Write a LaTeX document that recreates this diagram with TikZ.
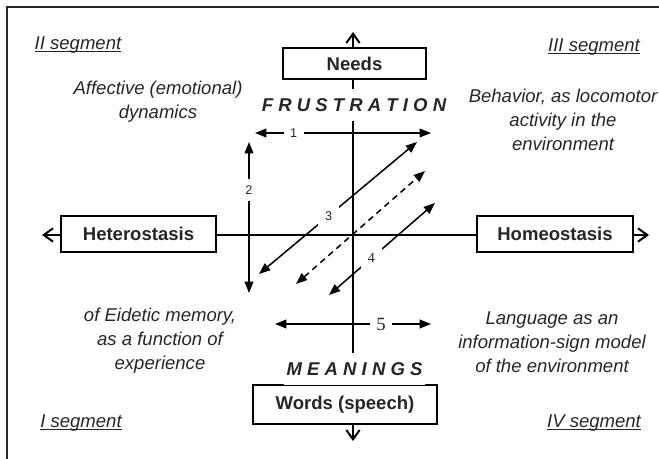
\documentclass[tikz,border=0pt]{standalone}
\usepackage{fontspec}
\setmainfont{Liberation Sans}
\newfontfamily\numfont{Liberation Serif}
\usetikzlibrary{arrows.meta}
\definecolor{ink}{RGB}{38,38,38}
\newcommand\bodysize{\fontsize{13.9}{18}\selectfont}
\newcommand\segline[1]{\setbox0\hbox{#1}\rlap{\rule[-1.8pt]{\wd0}{0.9pt}}\box0}

\begin{document}
\begin{tikzpicture}[x=0.75pt, y=-0.75pt]
% TikZ styles
\tikzset{
  box/.style={rectangle, draw=black, fill=white, line width=0.4mm, inner sep=0pt, font=\bodysize\bfseries, text=ink},
  note/.style={align=center, font=\bodysize\itshape, text=ink},
  segment/.style={font=\bodysize\itshape, text=ink},
  heading/.style={fill=white, inner xsep=2pt, inner ysep=7pt, font=\bodysize\bfseries\itshape, text=ink},
  axis/.style={{Straight Barb[length=7pt,width=10pt]}-{Straight Barb[length=7pt,width=10pt]}, line width=1.5pt},
  arrowboth/.style={{Triangle[length=8.5pt,width=6.5pt]}-{Triangle[length=8.5pt,width=6.5pt]}, line width=0.4mm},
  num/.style={fill=white, inner sep=5pt, font=\fontsize{9.5}{11}\selectfont, text=ink},
  numserif/.style={fill=white, inner sep=5pt, text=ink}
}
\useasboundingbox (0,0) rectangle (659,459);

%==========================
% Rahmen
%==========================
\coordinate (framebl) at (7,459);
\coordinate (frametl) at (7,7);
\coordinate (frametr) at (659,7);
\draw[line width=1.5pt, ink] (framebl) -- (frametl) -- (frametr);

%==========================
% Achsen
%==========================
\coordinate (vtop) at (353,32);
\coordinate (vbot) at (353,441);
\coordinate (hleft) at (42,235);
\coordinate (hright) at (649,235);
\draw[axis] (vtop) -- (vbot);
\draw[axis] (hleft) -- (hright);

\node[box, minimum width=107pt, minimum height=23pt] (needs) at (354.5,63.5) {Needs};
\node[box, minimum width=116pt, minimum height=27pt] (hetero) at (138.5,234) {Heterostasis};
\node[box, minimum width=117pt, minimum height=27pt] (homeo) at (555,234) {Homeostasis};
\node[box, minimum width=138pt, minimum height=29pt] (words) at (345,404.5) {Words (speech)};

\node[heading] (frustration) at (354,105) {F R U S T R A T I O N};
\node[heading] (meanings) at (354.5,369) {M E A N I N G S};

%==========================
% Segmente und Texte
%==========================
\node[segment] (seg2) at (78,45) {\segline{II segment}};
\node[segment] (seg3) at (594,47) {\segline{III segment}};
\node[segment] (seg1) at (81,423) {\segline{I segment}};
\node[segment] (seg4) at (594,423) {\segline{IV segment}};

\node[note] (affect) at (158,102) {Affective (emotional)\\dynamics};
\node[note] (behavior) at (563,120) {Behavior, as locomotor\\activity in the\\environment};
\node[note] (eidetic) at (160,341) {of Eidetic memory,\\as a function of\\experience};
\node[note] (language) at (552,342) {Language as an\\information-sign model\\of the environment};

%==========================
% Innere Pfeile
%==========================
\coordinate (onel) at (255,133);
\coordinate (oner) at (431,133);
\coordinate (twot) at (249,142);
\coordinate (twob) at (249,293);
\coordinate (threel) at (259,274);
\coordinate (threer) at (417,142);
\coordinate (dashl) at (296,284);
\coordinate (dashr) at (425,171);
\coordinate (fourl) at (329,295);
\coordinate (fourr) at (435,203);
\coordinate (fivel) at (275,324);
\coordinate (fiver) at (431,324);

\draw[arrowboth] (onel) -- node[num, pos=0.22] (lab1) {1} (oner);
\draw[arrowboth] (twot) -- node[num, pos=0.32] (lab2) {2} (twob);
\draw[arrowboth] (threel) -- node[num, pos=0.44] (lab3) {3} (threer);
\draw[arrowboth, dash pattern=on 4.5pt off 3.5pt] (dashl) -- (dashr);
\draw[arrowboth] (fourl) -- node[numserif, pos=0.40, font=\numfont\fontsize{10.5}{12}\selectfont] (lab4) {4} (fourr);
\draw[arrowboth] (fivel) -- node[numserif, pos=0.68, font=\numfont\fontsize{14}{16}\selectfont] (lab5) {5} (fiver);

\end{tikzpicture}
\end{document}
